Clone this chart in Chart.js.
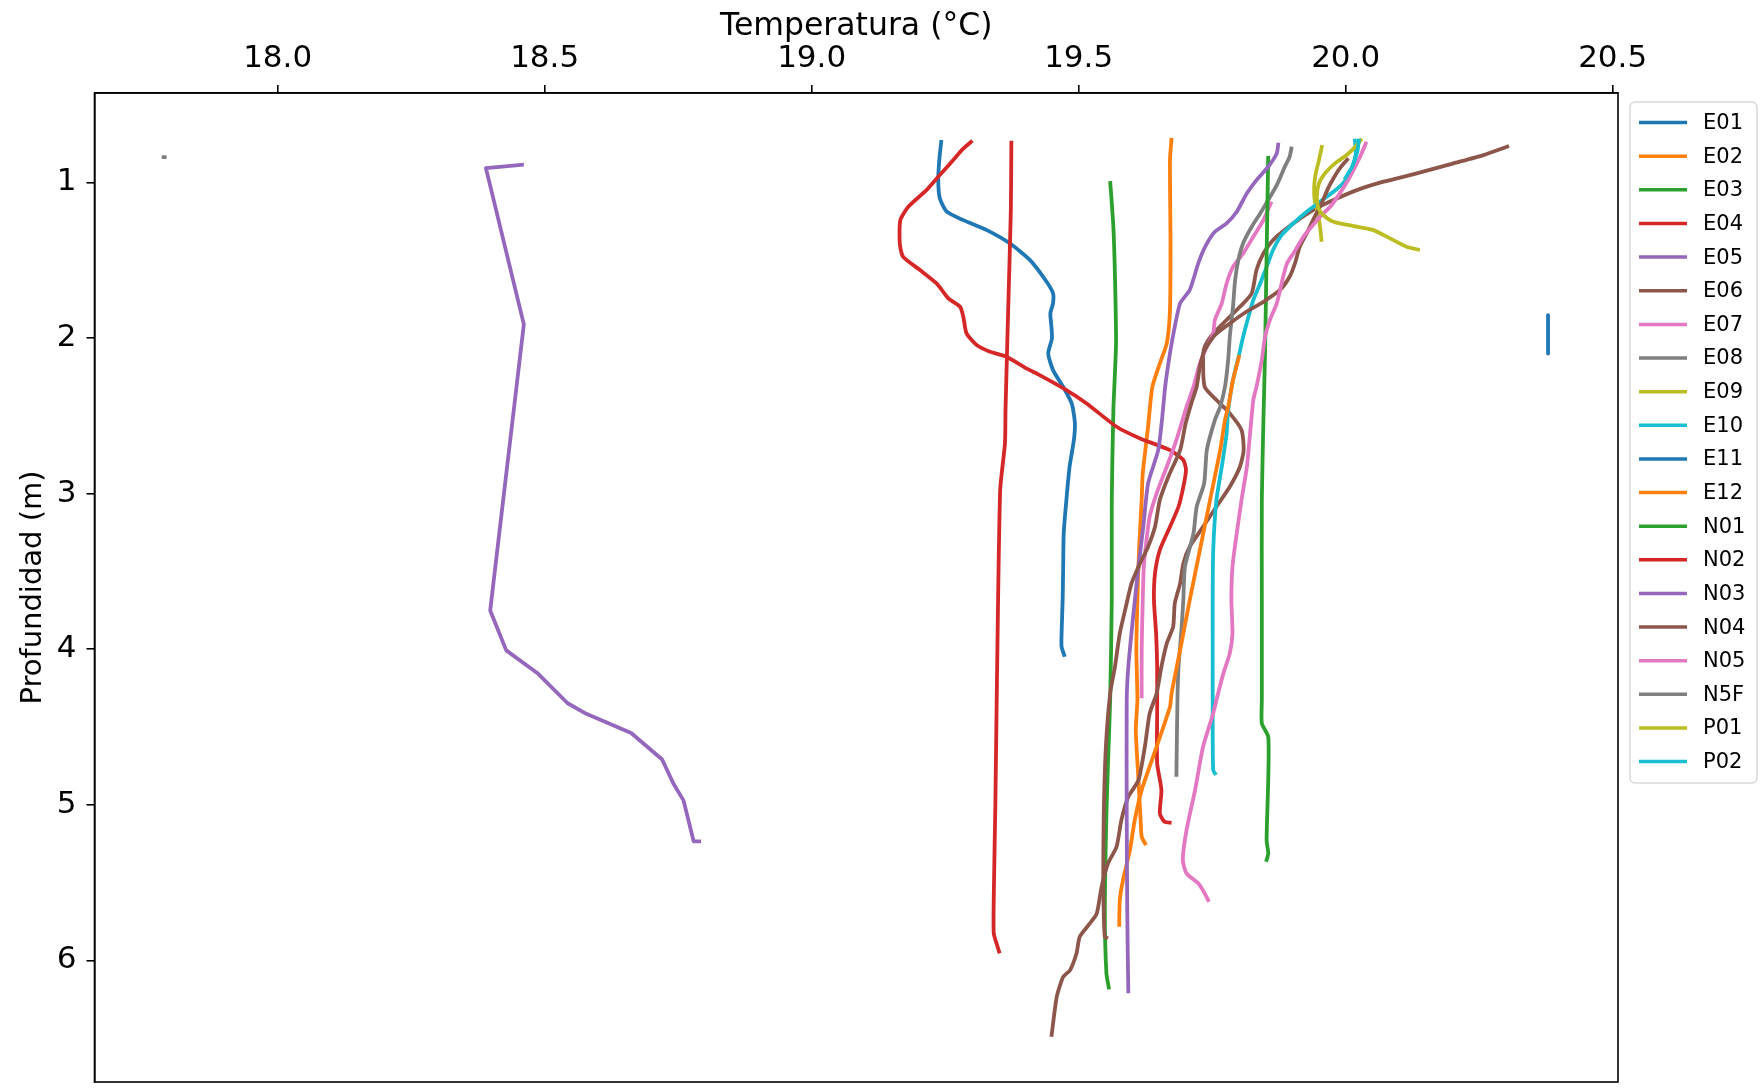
<!DOCTYPE html>
<html>
<head>
<meta charset="utf-8">
<title>Perfiles de temperatura</title>
<script src="https://cdn.jsdelivr.net/npm/chart.js@4/dist/chart.umd.min.js"></script>
<style>
  html, body { margin: 0; padding: 0; background: #fff; }
  canvas { display: block; }
</style>
</head>
<body>
<canvas id="chart" width="1764" height="1088"></canvas>
<script>
"use strict";

const FONT = "DejaVu Sans";

const stations = ["E01", "E02", "E03", "E04", "E05", "E06", "E07", "E08", "E09", "E10",
  "E11", "E12", "N01", "N02", "N03", "N04", "N05", "N5F", "P01", "P02"];

// matplotlib tab10 cycle
const palette = ["#1f77b4", "#ff7f0e", "#2ca02c", "#d62728", "#9467bd",
  "#8c564b", "#e377c2", "#7f7f7f", "#bcbd22", "#17becf"];

const xTicks = [18.0, 18.5, 19.0, 19.5, 20.0, 20.5];
const yTicks = [1, 2, 3, 4, 5, 6];

// temperature (°C) / depth (m) per station
const E01_temp = [19.243, 19.239, 19.237, 19.240, 19.253, 19.284, 19.328, 19.371, 19.409, 19.440, 19.452, 19.452, 19.447, 19.449, 19.450, 19.443, 19.452, 19.471, 19.487, 19.493, 19.491, 19.483, 19.477, 19.472, 19.471, 19.470, 19.468, 19.468, 19.474];
const E01_depth = [0.728, 0.857, 0.986, 1.103, 1.189, 1.243, 1.307, 1.392, 1.500, 1.639, 1.714, 1.778, 1.842, 1.928, 2.003, 2.100, 2.207, 2.314, 2.421, 2.549, 2.657, 2.828, 3.042, 3.256, 3.471, 3.685, 3.899, 3.985, 4.049];

const E02_temp = [19.674, 19.671, 19.672, 19.671, 19.665, 19.652, 19.638, 19.630, 19.620, 19.618, 19.613, 19.610, 19.608, 19.610, 19.607, 19.612, 19.616, 19.618, 19.626];
const E02_depth = [0.715, 0.857, 1.392, 1.821, 2.035, 2.164, 2.314, 2.571, 2.871, 3.042, 3.363, 3.685, 4.006, 4.327, 4.520, 4.842, 5.099, 5.206, 5.259];

const E03_temp = [19.559, 19.565, 19.568, 19.570, 19.565, 19.562, 19.562, 19.559, 19.556, 19.552, 19.549, 19.552, 19.557];
const E03_depth = [0.992, 1.286, 1.607, 2.035, 2.464, 3.042, 3.685, 4.327, 4.627, 5.056, 5.698, 6.084, 6.187];

const E04_temp = [19.301, 19.281, 19.268, 19.240, 19.215, 19.181, 19.166, 19.165, 19.171, 19.203, 19.234, 19.256, 19.278, 19.284, 19.290, 19.309, 19.334, 19.365, 19.402, 19.427, 19.477, 19.515, 19.571, 19.615, 19.671, 19.696, 19.701, 19.696, 19.687, 19.671, 19.652, 19.643, 19.641, 19.645, 19.647, 19.647, 19.647, 19.655, 19.652, 19.661, 19.674];
const E04_depth = [0.733, 0.793, 0.846, 0.953, 1.050, 1.157, 1.243, 1.392, 1.478, 1.564, 1.650, 1.746, 1.800, 1.864, 1.971, 2.046, 2.089, 2.121, 2.196, 2.239, 2.335, 2.421, 2.571, 2.646, 2.721, 2.785, 2.849, 2.957, 3.085, 3.214, 3.363, 3.513, 3.685, 3.899, 4.113, 4.413, 4.734, 4.906, 5.056, 5.110, 5.116];

const E05_temp = [18.461, 18.390, 18.461, 18.398, 18.428, 18.486, 18.543, 18.578, 18.662, 18.720, 18.741, 18.760, 18.779, 18.793];
const E05_depth = [0.887, 0.909, 1.913, 3.752, 4.008, 4.153, 4.348, 4.416, 4.539, 4.709, 4.864, 4.972, 5.235, 5.235];

const E06_temp = [20.306, 20.258, 20.202, 20.133, 20.071, 20.021, 19.977, 19.939, 19.902, 19.864, 19.846, 19.833, 19.824, 19.802, 19.777, 19.752, 19.736, 19.733, 19.736, 19.758, 19.783, 19.805, 19.809, 19.802, 19.783, 19.758, 19.733, 19.708, 19.696, 19.690, 19.680, 19.677, 19.665, 19.655, 19.646, 19.633, 19.624, 19.612, 19.593, 19.580, 19.571, 19.555, 19.543, 19.534, 19.521, 19.502, 19.496, 19.484, 19.471, 19.459, 19.449];
const E06_depth = [0.767, 0.825, 0.878, 0.943, 0.996, 1.050, 1.114, 1.178, 1.264, 1.371, 1.457, 1.564, 1.714, 1.800, 1.885, 1.971, 2.057, 2.142, 2.314, 2.399, 2.485, 2.592, 2.721, 2.828, 2.957, 3.085, 3.214, 3.342, 3.449, 3.578, 3.706, 3.856, 3.963, 4.113, 4.285, 4.413, 4.627, 4.842, 4.949, 5.099, 5.270, 5.377, 5.527, 5.698, 5.763, 5.849, 5.955, 6.063, 6.106, 6.234, 6.491];

const E07_temp = [19.861, 19.846, 19.827, 19.808, 19.789, 19.777, 19.768, 19.755, 19.752, 19.740, 19.727, 19.715, 19.702, 19.683, 19.665, 19.646, 19.633, 19.627, 19.622, 19.620, 19.618, 19.618];
const E07_depth = [1.125, 1.243, 1.350, 1.457, 1.543, 1.650, 1.778, 1.885, 1.971, 2.057, 2.164, 2.314, 2.443, 2.657, 2.828, 2.999, 3.149, 3.299, 3.471, 3.685, 4.006, 4.316];

const E08_temp = [19.899, 19.895, 19.886, 19.871, 19.855, 19.840, 19.824, 19.808, 19.799, 19.793, 19.789, 19.783, 19.780, 19.774, 19.765, 19.755, 19.740, 19.735, 19.721, 19.715, 19.699, 19.696, 19.692, 19.687, 19.685, 19.683];
const E08_depth = [0.771, 0.836, 0.900, 1.018, 1.114, 1.200, 1.286, 1.392, 1.500, 1.628, 1.800, 1.993, 2.142, 2.314, 2.443, 2.528, 2.721, 2.935, 3.085, 3.256, 3.471, 3.685, 3.899, 4.113, 4.327, 4.820];

const E09_temp = [19.956, 19.950, 19.944, 19.941, 19.942, 19.948, 19.952, 19.955];
const E09_depth = [0.761, 0.857, 0.943, 1.029, 1.114, 1.200, 1.286, 1.382];

const E10_temp = [20.017, 20.019, 20.011, 19.995, 19.977, 19.952, 19.927, 19.902, 19.880, 19.864, 19.852, 19.840, 19.827, 19.818, 19.808, 19.801, 19.789, 19.780, 19.777, 19.768, 19.758, 19.752, 19.751, 19.751, 19.751, 19.752, 19.757];
const E10_depth = [0.720, 0.814, 0.921, 1.007, 1.061, 1.125, 1.189, 1.264, 1.339, 1.435, 1.543, 1.650, 1.757, 1.864, 1.993, 2.099, 2.271, 2.464, 2.614, 2.828, 3.042, 3.363, 3.685, 4.327, 4.520, 4.777, 4.809];

const E11_temp = [20.379, 20.379, 20.379];
const E11_depth = [1.853, 1.980, 2.100];

const E12_temp = [19.801, 19.789, 19.780, 19.774, 19.765, 19.746, 19.727, 19.708, 19.690, 19.674, 19.671, 19.646, 19.618, 19.605, 19.596, 19.583, 19.577, 19.576];
const E12_depth = [2.110, 2.271, 2.443, 2.528, 2.721, 3.042, 3.363, 3.685, 4.006, 4.285, 4.370, 4.627, 4.906, 5.099, 5.292, 5.484, 5.613, 5.784];

const N01_temp = [19.855, 19.852, 19.849, 19.846, 19.843, 19.843, 19.843, 19.843, 19.855, 19.855, 19.852, 19.855, 19.851];
const N01_depth = [0.831, 1.457, 2.099, 2.528, 3.042, 3.685, 4.327, 4.477, 4.563, 4.842, 5.227, 5.313, 5.367];

const N02_temp = [19.374, 19.373, 19.368, 19.363, 19.362, 19.353, 19.347, 19.344, 19.341, 19.341, 19.347, 19.352];
const N02_depth = [0.733, 1.178, 1.821, 2.464, 2.678, 2.978, 4.200, 5.000, 5.600, 5.827, 5.900, 5.955];

const N03_temp = [19.874, 19.871, 19.855, 19.833, 19.815, 19.796, 19.777, 19.755, 19.737, 19.724, 19.708, 19.690, 19.680, 19.671, 19.662, 19.656, 19.649, 19.630, 19.621, 19.612, 19.602, 19.593, 19.590, 19.590, 19.591, 19.593];
const N03_depth = [0.746, 0.814, 0.900, 0.986, 1.071, 1.189, 1.264, 1.318, 1.414, 1.521, 1.692, 1.778, 1.928, 2.099, 2.314, 2.528, 2.721, 2.935, 3.214, 3.471, 3.792, 4.113, 4.327, 5.056, 5.698, 6.212];

const N04_temp = [20.005, 19.989, 19.977, 19.967, 19.955, 19.942, 19.927, 19.914, 19.905, 19.895, 19.877, 19.846, 19.814, 19.783, 19.755, 19.736, 19.727, 19.721, 19.711, 19.702, 19.699, 19.690, 19.668, 19.652, 19.643, 19.630, 19.615, 19.599, 19.587, 19.577, 19.568, 19.559, 19.551, 19.547, 19.546, 19.547, 19.549, 19.555];
const N04_depth = [0.846, 0.910, 0.975, 1.039, 1.135, 1.221, 1.328, 1.414, 1.521, 1.607, 1.692, 1.768, 1.832, 1.907, 1.982, 2.078, 2.185, 2.314, 2.421, 2.528, 2.571, 2.721, 2.892, 3.042, 3.214, 3.342, 3.449, 3.578, 3.749, 3.899, 4.113, 4.285, 4.627, 5.056, 5.484, 5.698, 5.849, 5.859];

const N05_temp = [20.039, 20.027, 20.008, 19.989, 19.971, 19.952, 19.936, 19.921, 19.902, 19.890, 19.883, 19.871, 19.858, 19.849, 19.843, 19.833, 19.827, 19.821, 19.815, 19.805, 19.796, 19.788, 19.786, 19.788, 19.783, 19.771, 19.758, 19.752, 19.733, 19.718, 19.702, 19.695, 19.702, 19.724, 19.736, 19.744];
const N05_depth = [0.739, 0.836, 0.964, 1.071, 1.157, 1.221, 1.286, 1.350, 1.457, 1.521, 1.607, 1.778, 1.885, 1.993, 2.142, 2.314, 2.400, 2.614, 2.828, 3.042, 3.256, 3.471, 3.685, 3.899, 4.027, 4.156, 4.327, 4.413, 4.627, 4.906, 5.163, 5.356, 5.441, 5.505, 5.570, 5.624];

const N5F_temp = [17.783, 17.792];
const N5F_depth = [0.838, 0.838];

const P01_temp = [20.030, 20.021, 20.002, 19.980, 19.961, 19.950, 19.946, 19.949, 19.958, 19.977, 20.015, 20.052, 20.083, 20.114, 20.139];
const P01_depth = [0.720, 0.761, 0.825, 0.878, 0.943, 1.007, 1.093, 1.168, 1.210, 1.253, 1.281, 1.307, 1.360, 1.414, 1.435];

const P02_temp = [20.025, 20.022, 20.012, 19.998];
const P02_depth = [0.720, 0.800, 0.900, 0.980];

const profiles = {
  E01: [E01_temp, E01_depth], E02: [E02_temp, E02_depth], E03: [E03_temp, E03_depth],
  E04: [E04_temp, E04_depth], E05: [E05_temp, E05_depth], E06: [E06_temp, E06_depth],
  E07: [E07_temp, E07_depth], E08: [E08_temp, E08_depth], E09: [E09_temp, E09_depth],
  E10: [E10_temp, E10_depth], E11: [E11_temp, E11_depth], E12: [E12_temp, E12_depth],
  N01: [N01_temp, N01_depth], N02: [N02_temp, N02_depth], N03: [N03_temp, N03_depth],
  N04: [N04_temp, N04_depth], N05: [N05_temp, N05_depth], N5F: [N5F_temp, N5F_depth],
  P01: [P01_temp, P01_depth], P02: [P02_temp, P02_depth],
};

// stations drawn as straight segments (few samples)
const straight = ["E05", "E11", "N5F"];

const LINE_W = 3.8;

const datasets = stations.map((name, i) => {
  const [temp, depth] = profiles[name];
  return {
    label: name,
    data: temp.map((t, k) => ({ x: t, y: depth[k] })),
    showLine: true,
    borderColor: palette[i % palette.length],
    backgroundColor: palette[i % palette.length],
    borderWidth: LINE_W,
    pointRadius: 0,
    pointHoverRadius: 0,
    tension: straight.includes(name) ? 0 : 0.2,
    borderJoinStyle: "round",
    borderCapStyle: "butt",
    // later stations end up on top, like the plotting order
    order: stations.length - i,
  };
});

// box around the axes and the legend to the right of it
const frameAndLegend = {
  id: "frameAndLegend",
  afterDraw(chart) {
    const { ctx, chartArea: a } = chart;
    ctx.save();
    ctx.strokeStyle = "#000";
    ctx.lineWidth = 1.6;
    ctx.strokeRect(a.left, a.top, a.right - a.left, a.bottom - a.top);

    const boxX = 1630, boxY = 102, boxW = 127, boxH = 681;
    const rowY = 122.6, rowH = 33.63;
    ctx.beginPath();
    ctx.roundRect(boxX, boxY, boxW, boxH, 5);
    ctx.fillStyle = "rgba(255,255,255,0.8)";
    ctx.fill();
    ctx.strokeStyle = "#d8d8d8";
    ctx.lineWidth = 1.5;
    ctx.stroke();

    ctx.font = `21px "${FONT}"`;
    ctx.textBaseline = "middle";
    ctx.textAlign = "left";
    chart.data.datasets.forEach((ds, i) => {
      const y = rowY + i * rowH;
      ctx.strokeStyle = ds.borderColor;
      ctx.lineWidth = 3.5;
      ctx.beginPath();
      ctx.moveTo(1639, y);
      ctx.lineTo(1687, y);
      ctx.stroke();
      ctx.fillStyle = "#000";
      ctx.fillText(ds.label, 1703, y + 1);
    });
    ctx.restore();
  },
};

Chart.defaults.font.family = FONT;
Chart.defaults.color = "#000";

const tickFont = { family: FONT, size: 31 };

new Chart(document.getElementById("chart"), {
  type: "scatter",
  data: { datasets },
  options: {
    responsive: false,
    animation: false,
    events: [],
    layout: { padding: { left: 0, top: 0, right: 146, bottom: 6 } },
    plugins: {
      legend: { display: false },
      tooltip: { enabled: false },
    },
    scales: {
      x: {
        type: "linear",
        position: "top",
        min: 17.657,
        max: 20.51,
        afterFit: (s) => {
          s.height = 93;
          s.paddingLeft = 0;
          s.paddingRight = 0;
        },
        afterBuildTicks: (s) => { s.ticks = xTicks.map((v) => ({ value: v })); },
        ticks: {
          callback: (v) => v.toFixed(1),
          font: tickFont,
          color: "#000",
          padding: 7,
          maxRotation: 0,
          autoSkip: false,
        },
        grid: { drawOnChartArea: false, tickLength: 8, color: "#000", lineWidth: 1.6 },
        border: { color: "#000", width: 1.6 },
        title: {
          display: true,
          text: "Temperatura (°C)",
          font: { family: FONT, size: 31.5 },
          color: "#000",
          padding: { top: 8, bottom: 0 },
        },
      },
      y: {
        type: "linear",
        reverse: true,
        min: 0.426,
        max: 6.782,
        afterFit: (s) => {
          s.width = 94.5;
          s.paddingTop = 0;
          s.paddingBottom = 0;
        },
        afterBuildTicks: (s) => { s.ticks = yTicks.map((v) => ({ value: v })); },
        ticks: {
          callback: (v) => String(v),
          font: tickFont,
          color: "#000",
          padding: 10,
          autoSkip: false,
        },
        grid: { drawOnChartArea: false, tickLength: 8, color: "#000", lineWidth: 1.6 },
        border: { color: "#000", width: 1.6 },
        title: {
          display: true,
          text: "Profundidad (m)",
          font: { family: FONT, size: 29 },
          color: "#000",
          padding: { top: 16, bottom: 0 },
        },
      },
    },
  },
  plugins: [frameAndLegend],
});
</script>
</body>
</html>
